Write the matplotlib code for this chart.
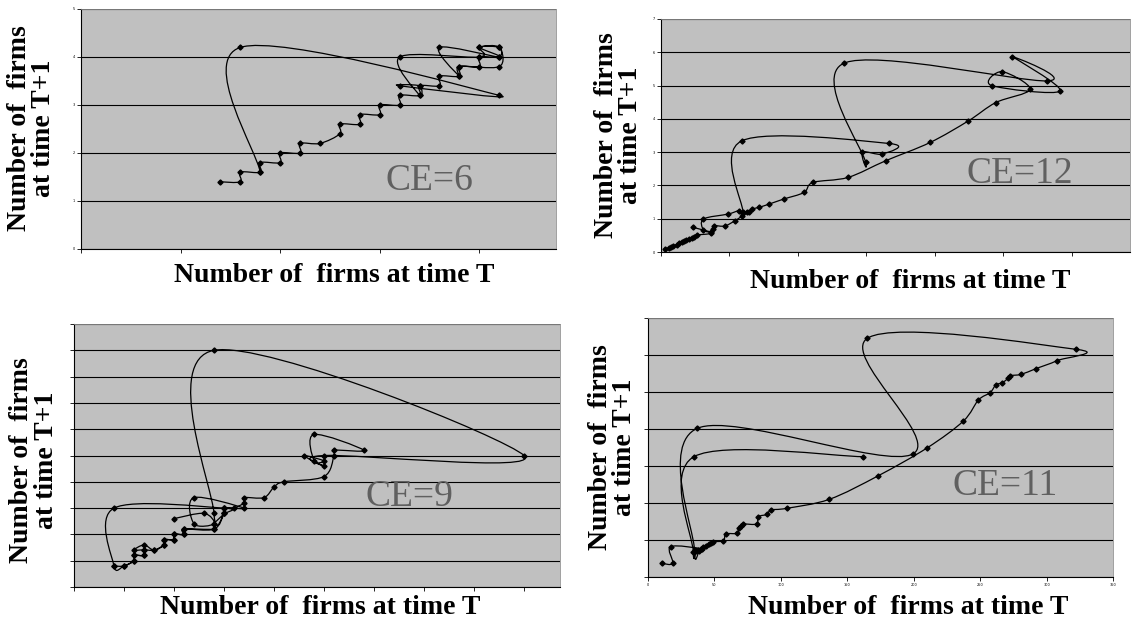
import numpy as np
import matplotlib
matplotlib.use("Agg")
import matplotlib.pyplot as plt
from matplotlib.path import Path
from matplotlib.patches import PathPatch

W, H = 1133, 619
SERIF = ['Liberation Serif', 'DejaVu Serif']

# ---- CE=6 (top left), grid units
tl_x = [1.4, 1.6, 1.6, 1.8, 1.8, 2.0, 2.0, 2.2, 2.2, 2.4, 2.6, 2.6, 2.8, 2.8, 3.0,
        3.0, 3.2, 3.2, 3.4, 3.4, 3.6, 3.6, 3.8, 3.8, 4.0, 4.0, 4.2, 4.2, 4.0, 4.2,
        3.6, 3.8, 3.8, 4.2, 4.2, 4.0, 4.0, 3.2, 3.4, 3.4, 3.2, 4.2, 1.6, 1.8]
tl_y = [1.4, 1.4, 1.6, 1.6, 1.8, 1.8, 2.0, 2.0, 2.2, 2.2, 2.4, 2.6, 2.6, 2.8, 2.8,
        3.0, 3.0, 3.2, 3.2, 3.4, 3.4, 3.6, 3.6, 3.8, 3.8, 4.0, 4.0, 4.2, 4.2, 4.0,
        4.2, 3.6, 3.8, 3.8, 4.2, 4.2, 4.0, 4.0, 3.2, 3.4, 3.4, 3.2, 4.2, 1.6]

# ---- CE=12 (top right)
tr_x = [0.06, 0.11, 0.14, 0.18, 0.23, 0.27, 0.30, 0.34, 0.37, 0.41, 0.45, 0.48, 0.52,
        0.73, 0.76, 0.78, 0.93, 1.08, 1.18, 1.20, 1.25, 1.29, 1.33, 1.43, 1.58, 1.79,
        2.09, 2.22, 2.73, 3.28, 3.93, 4.49, 4.89, 5.39, 4.98, 4.83, 5.83, 5.13, 5.64,
        2.67, 2.99, 2.94, 3.23, 3.33, 1.18, 1.20, 1.14, 0.98, 0.62, 0.62, 0.73, 0.47]
tr_y = [0.08, 0.11, 0.14, 0.18, 0.22, 0.26, 0.30, 0.33, 0.36, 0.39, 0.42, 0.46, 0.51,
        0.56, 0.70, 0.79, 0.78, 0.94, 1.08, 1.19, 1.19, 1.21, 1.29, 1.34, 1.44, 1.59,
        1.79, 2.09, 2.24, 2.74, 3.29, 3.94, 4.49, 4.89, 5.42, 5.00, 4.84, 5.87, 5.14,
        5.67, 2.69, 3.01, 2.94, 3.26, 3.34, 1.16, 1.24, 1.14, 0.99, 0.66, 0.60, 0.74]

# ---- CE=9 (bottom left)
bl_x = [0.8, 1.0, 1.2, 1.2, 1.4, 1.4, 1.6, 1.8, 1.8, 2.0, 2.0, 2.2, 2.2, 2.8, 3.0,
        3.0, 3.2, 3.4, 3.4, 3.8, 4.0, 4.2, 5.0, 5.2, 5.2, 5.8, 4.8, 4.8, 5.0, 4.6,
        5.0, 5.0, 9.0, 2.8, 2.8, 3.0, 3.0, 0.8, 0.8, 1.0, 1.2, 1.2, 1.4, 1.4, 1.2,
        1.4, 1.6, 1.8, 1.8, 2.0, 2.0, 2.2, 2.2, 2.8, 2.8, 3.0, 3.0, 3.4, 2.4, 2.4,
        2.8, 2.6, 2.0]
bl_y = [0.8, 0.8, 1.0, 1.2, 1.2, 1.4, 1.4, 1.6, 1.8, 1.8, 2.0, 2.0, 2.2, 2.2, 2.8,
        3.0, 3.0, 3.2, 3.4, 3.4, 3.8, 4.0, 4.2, 5.0, 5.2, 5.2, 5.8, 4.8, 4.8, 5.0,
        4.6, 5.0, 5.0, 9.0, 2.8, 2.8, 3.0, 3.0, 0.8, 0.8, 1.0, 1.2, 1.2, 1.4, 1.4,
        1.6, 1.4, 1.6, 1.8, 1.8, 2.0, 2.0, 2.2, 2.2, 2.4, 2.8, 3.0, 3.0, 3.4, 2.4,
        2.4, 2.8, 2.6]

# ---- CE=11 (bottom right), real units
br_x = [162.1, 34.6, 34.1, 36.1, 37.9, 39.9, 41.7, 43.7, 46.2, 47.4, 48.7, 56.7, 58.7,
        66.8, 68.5, 69.8, 71.8, 81.8, 83.0, 89.9, 92.4, 104.4, 136.5, 173.4, 210.3,
        237.4, 248.7, 257.5, 261.8, 266.8, 270.9, 272.6, 280.9, 291.9, 307.7, 322.0,
        165.1, 199.3, 37.1, 35.0, 38.5, 41.0, 17.1, 18.6, 10.3]
br_y = [162.6, 162.6, 34.2, 34.5, 36.4, 37.9, 40.1, 41.5, 44.1, 46.4, 47.7, 49.1, 58.1,
        59.0, 65.8, 68.9, 71.6, 71.6, 81.5, 84.7, 90.5, 92.8, 105.0, 136.9, 174.7,
        210.8, 239.2, 249.1, 259.5, 262.6, 268.5, 272.0, 273.9, 281.5, 292.3, 307.7,
        322.6, 166.2, 200.9, 36.5, 35.0, 38.0, 41.0, 18.5, 18.5]

fig = plt.figure(figsize=(W / 100, H / 100), dpi=100)


def px_axes(left, top, right, bottom):
    return fig.add_axes([left / W, 1 - bottom / H, (right - left) / W, (bottom - top) / H])


def smooth_path(xs, ys):
    # Excel-like smoothed line: Catmull-Rom segments as cubic Beziers
    pts = np.column_stack([xs, ys]).astype(float)
    ext = np.vstack([pts[0], pts, pts[-1]])
    verts = [pts[0]]
    codes = [Path.MOVETO]
    for i in range(1, len(ext) - 2):
        p0, p1, p2, p3 = ext[i - 1], ext[i], ext[i + 1], ext[i + 2]
        verts += [p1 + (p2 - p0) / 6, p2 - (p3 - p1) / 6, p2]
        codes += [Path.CURVE4] * 3
    return Path(verts, codes)


def panel(ax, xs, ys, xmax, ymax, xstep, ystep, ylabels=False, xlabels=False):
    ax.set_facecolor('#c0c0c0')
    ax.set_xlim(0, xmax)
    ax.set_ylim(0, ymax)
    ax.set_xticks(np.arange(0, xmax + 1e-6, xstep))
    ax.set_yticks(np.arange(0, ymax + 1e-6, ystep))
    ax.grid(axis='y', color='black', lw=0.8)
    ax.set_axisbelow(True)
    for s in ['left', 'bottom']:
        ax.spines[s].set_color('black')
        ax.spines[s].set_linewidth(0.8)
    for s in ['top', 'right']:
        ax.spines[s].set_color('#909090')
        ax.spines[s].set_linewidth(0.6)
    ax.tick_params(direction='out', length=3, width=0.6, labelsize=2.5, pad=1.5,
                   labelleft=ylabels, labelbottom=xlabels)
    ax.add_patch(PathPatch(smooth_path(xs, ys), fill=False, lw=0.9, edgecolor='black'))
    ax.plot(xs, ys, ls='none', marker='D', ms=2.6, color='black')


ax1 = px_axes(81, 9, 556, 249)
panel(ax1, tl_x, tl_y, 4.77, 5, 1, 1, ylabels=True)
ax2 = px_axes(661, 19, 1130, 252)
panel(ax2, tr_x, tr_y, 6.85, 7, 1, 1, ylabels=True)
ax3 = px_axes(74, 324, 560, 587)
panel(ax3, bl_x, bl_y, 9.72, 10, 1, 1)
ax4 = px_axes(648, 318, 1113, 577)
panel(ax4, br_x, br_y, 350, 350, 50, 50, xlabels=True)

# CE annotations
for x, y, s in [(429, 190, 'CE=6'), (1020, 183, 'CE=12'),
                (409, 506, 'CE=9'), (1005, 495, 'CE=11')]:
    fig.text(x / W, 1 - y / H, s, ha='center', va='baseline', fontsize=27,
             color='#606060', family=SERIF)

# axis labels
xlab = 'Number of  firms at time T'
ylab = 'Number of  firms\nat time T+1'
for x, y in [(334, 282), (910, 288), (320, 614), (908, 614)]:
    fig.text(x / W, 1 - y / H, xlab, ha='center', va='baseline', fontsize=20,
             weight='bold', family=SERIF)
for x, y in [(31.5, 128), (618.5, 135), (34, 460), (612.5, 447)]:
    fig.text(x / W, 1 - y / H, ylab, ha='center', va='center', rotation=90,
             multialignment='center', linespacing=0.97, fontsize=20,
             weight='bold', family=SERIF)

fig.savefig('out.png', dpi=100)
